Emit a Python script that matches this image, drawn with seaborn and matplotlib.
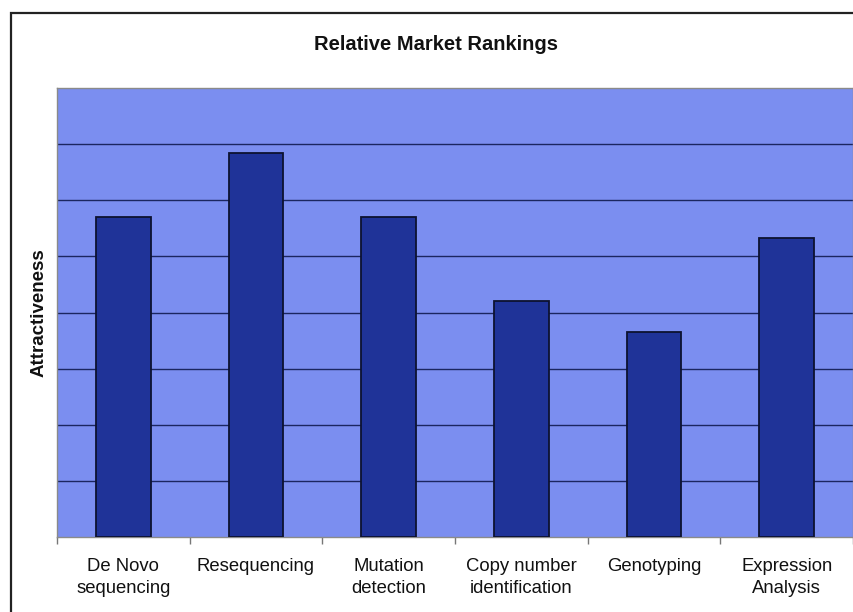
import matplotlib
matplotlib.use("Agg")
import matplotlib.pyplot as plt
from matplotlib.patches import Rectangle
from matplotlib.ticker import FixedLocator
import seaborn as sns

categories = ["De Novo\nsequencing", "Resequencing", "Mutation\ndetection",
              "Copy number\nidentification", "Genotyping", "Expression\nAnalysis"]
attractiveness = [5.7, 6.85, 5.7, 4.2, 3.65, 5.33]
grid_levels = [1, 2, 3, 4, 5, 6, 7]

sns.set_theme(style="white")
plt.rcParams["font.family"] = ["Liberation Sans", "DejaVu Sans"]

fig = plt.figure(figsize=(8.54, 6.12), dpi=100)
fig.patch.set_facecolor("white")
ax = fig.add_axes([57 / 854, 1 - 537 / 612, 796 / 854, 449 / 612])
ax.set_facecolor("#7b8ef0")

sns.barplot(x=categories, y=attractiveness, color="#1f3398", saturation=1,
            width=0.41, edgecolor="#0d1230", linewidth=1.3, ax=ax, zorder=3)

ax.set_ylim(0, 8)
ax.set_xlim(-0.5, len(categories) - 0.5)
ax.set_yticks(grid_levels)
ax.set_yticklabels([])
for lv in grid_levels:
    ax.axhline(lv, color="#1b2660", lw=1.0, zorder=1)

ax.xaxis.set_minor_locator(FixedLocator([i - 0.5 for i in range(len(categories) + 1)]))
ax.tick_params(axis="x", which="major", length=0, pad=15, labelsize=13.3, colors="#111111")
ax.tick_params(axis="x", which="minor", length=5, width=1, color="#777777", direction="out", bottom=True)
ax.tick_params(axis="y", length=0)
for lbl in ax.get_xticklabels():
    lbl.set_linespacing(1.4)

for side, sp in ax.spines.items():
    sp.set_visible(True)
    sp.set_color("#8a8a8a")
    sp.set_linewidth(1.0)

ax.set_xlabel("")
ax.set_ylabel("Attractiveness", fontsize=13.5, fontweight="bold", color="#111111", labelpad=0)
ax.yaxis.set_label_coords(-9 / 796, 0.5)

fig.text(436 / 854, 1 - 45 / 612, "Relative Market Rankings", ha="center", va="center",
         fontsize=14.5, fontweight="bold", color="#111111")

# outer chart frame
fig.add_artist(Rectangle((11 / 854, -0.2), 1.2, 1 - 13 / 612 + 0.2, transform=fig.transFigure,
                         fill=False, edgecolor="#222222", linewidth=1.6))

fig.savefig("out.png", dpi=100)
